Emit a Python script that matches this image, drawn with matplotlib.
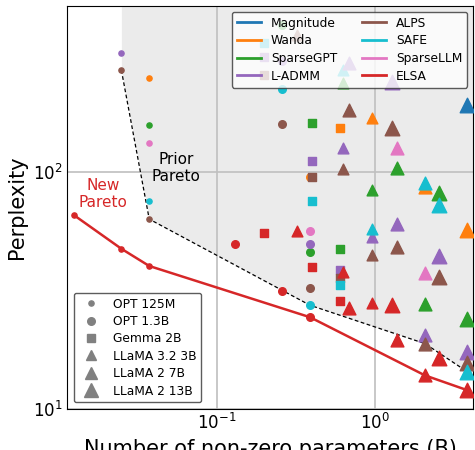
import matplotlib
matplotlib.use("Agg")
import matplotlib.pyplot as plt
from matplotlib.lines import Line2D
import numpy as np

nan = np.nan

methods = ["Magnitude", "Wanda", "SparseGPT", "L-ADMM", "ALPS", "SAFE", "SparseLLM", "ELSA"]
method_colors = ["tab:blue", "tab:orange", "tab:green", "tab:purple",
                 "tab:brown", "tab:cyan", "tab:pink", "tab:red"]

models = ["OPT 125M", "OPT 1.3B", "Gemma 2B", "LLaMA 3.2 3B", "LLaMA 2 7B", "LLaMA 2 13B"]
model_markers = ["o", "o", "s", "^", "^", "^"]
model_sizes = [14, 30, 40, 60, 85, 110]

# non-zero parameters (B) at 90%, 80%, 70% sparsity
nnz_opt125m = [0.0125, 0.025, 0.0375]
nnz_opt13b = [0.13, 0.259, 0.389]
nnz_gemma2b = [0.199, 0.398, 0.598]
nnz_llama32_3b = [0.32, 0.63, 0.953]
nnz_llama2_7b = [0.69, 1.38, 2.07]
nnz_llama2_13b = [1.29, 2.55, 3.83]

# perplexity at 90%, 80%, 70% sparsity (nan = off the chart)
ppl_opt125m = {
    "Wanda": [nan, nan, 250], "SparseGPT": [nan, nan, 157], "L-ADMM": [nan, 319, nan],
    "ALPS": [nan, 269, 63.1], "SAFE": [nan, nan, 75], "SparseLLM": [nan, nan, 132],
    "ELSA": [65.7, 47.3, 40.0],
}
ppl_opt13b = {
    "Wanda": [nan, nan, 95.3], "SparseGPT": [nan, 415, 45.9], "L-ADMM": [nan, 293, 49.4],
    "ALPS": [nan, 159, 32.4], "SAFE": [nan, 223, 27.3], "SparseLLM": [nan, nan, 56.2],
    "ELSA": [49.4, 31.4, 24.3],
}
ppl_gemma2b = {
    "Wanda": [nan, nan, 153], "SparseGPT": [nan, 161, 47.2], "L-ADMM": [305, 111, 38.5],
    "ALPS": [257, 95, 35.5], "SAFE": [349, 75.3, 33.2], "ELSA": [55, 39.5, 28.4],
}
ppl_llama32_3b = {
    "Wanda": [nan, nan, 169], "SparseGPT": [nan, 237, 83.8], "L-ADMM": [nan, 126.5, 53.2],
    "ALPS": [380, 102.5, 44.5], "SAFE": [nan, 270, 57.3], "ELSA": [56.2, 37.8, 28.0],
}
ppl_llama2_7b = {
    "Wanda": [nan, nan, 86], "SparseGPT": [nan, 103.5, 27.6], "L-ADMM": [288, 60.2, 20.4],
    "ALPS": [182, 48.2, 18.8], "SAFE": [nan, nan, 89.7], "SparseLLM": [nan, 125.7, 37.5],
    "ELSA": [26.5, 19.4, 13.8],
}
ppl_llama2_13b = {
    "Magnitude": [nan, nan, 191.7], "Wanda": [nan, nan, 56.7], "SparseGPT": [nan, 81.1, 23.8],
    "L-ADMM": [240, 44.0, 17.4], "ALPS": [152.7, 35.8, 15.5], "SAFE": [nan, 72.4, 14.3],
    "ELSA": [27.3, 16.3, 11.95],
}

prior_pareto_x = [0.025, 0.0375, 0.389, 2.07, 3.83]
prior_pareto_y = [269, 63.1, 27.3, 18.8, 14.3]
new_pareto_x = [0.0125, 0.025, 0.0375, 0.389, 2.07, 3.83]
new_pareto_y = [65.7, 47.3, 40.0, 24.3, 13.8, 11.95]

all_nnz = [nnz_opt125m, nnz_opt13b, nnz_gemma2b, nnz_llama32_3b, nnz_llama2_7b, nnz_llama2_13b]
all_ppl = [ppl_opt125m, ppl_opt13b, ppl_gemma2b, ppl_llama32_3b, ppl_llama2_7b, ppl_llama2_13b]

XMIN, XMAX = 0.01142, 4.18
YMIN, YMAX = 10, 503

fig = plt.figure(figsize=(4.75, 4.5), dpi=100)
ax = fig.add_axes([0.1421, 0.0922, 0.8543, 0.8951])
ax.set_xscale("log")
ax.set_yscale("log")

# shaded region dominated by prior methods
fill_x = prior_pareto_x + [XMAX]
fill_y = prior_pareto_y + [prior_pareto_y[-1]]
ax.fill_between(fill_x, fill_y, YMAX * 2, color="#ebebeb", zorder=0.2, linewidth=0)

ax.plot(prior_pareto_x, prior_pareto_y, color="black", linestyle=(0, (3, 2)), linewidth=0.9, zorder=2)
ax.plot(new_pareto_x, new_pareto_y, color="tab:red", linewidth=1.8, zorder=2)

for nnz, ppl, marker, size in zip(all_nnz, all_ppl, model_markers, model_sizes):
    for method, color in zip(methods, method_colors):
        if method not in ppl:
            continue
        ax.scatter(nnz, ppl[method], marker=marker, s=size, color=color, zorder=3)

ax.text(0.0553, 104, "Prior\nPareto", ha="center", va="center", fontsize=11)
ax.text(0.0192, 80.5, "New\nPareto", ha="center", va="center", fontsize=11, color="tab:red")

ax.set_xlim(XMIN, XMAX)
ax.set_ylim(YMIN, YMAX)
ax.set_axisbelow(True)
ax.grid(True, which="major", color="0.75", linewidth=1.2)
ax.tick_params(which="both", length=0, labelsize=12)
ax.set_xlabel("Number of non-zero parameters (B)", fontsize=15)
ax.set_ylabel("Perplexity", fontsize=15)

method_handles = [Line2D([], [], color=c, linewidth=2) for c in method_colors]
leg1 = ax.legend(method_handles, methods, loc="upper right", ncol=2, fontsize=8.8,
                 labelspacing=0.38, edgecolor="0.2", fancybox=True)
leg1.set_zorder(5)
ax.add_artist(leg1)

model_handles = [Line2D([], [], color="gray", marker=m, linestyle="none", markersize=np.sqrt(s))
                 for m, s in zip(model_markers, model_sizes)]
leg2 = ax.legend(model_handles, models, loc="lower left", fontsize=8.8,
                 labelspacing=0.36, edgecolor="0.2")
leg2.set_zorder(5)

fig.savefig("out.png", dpi=100)
